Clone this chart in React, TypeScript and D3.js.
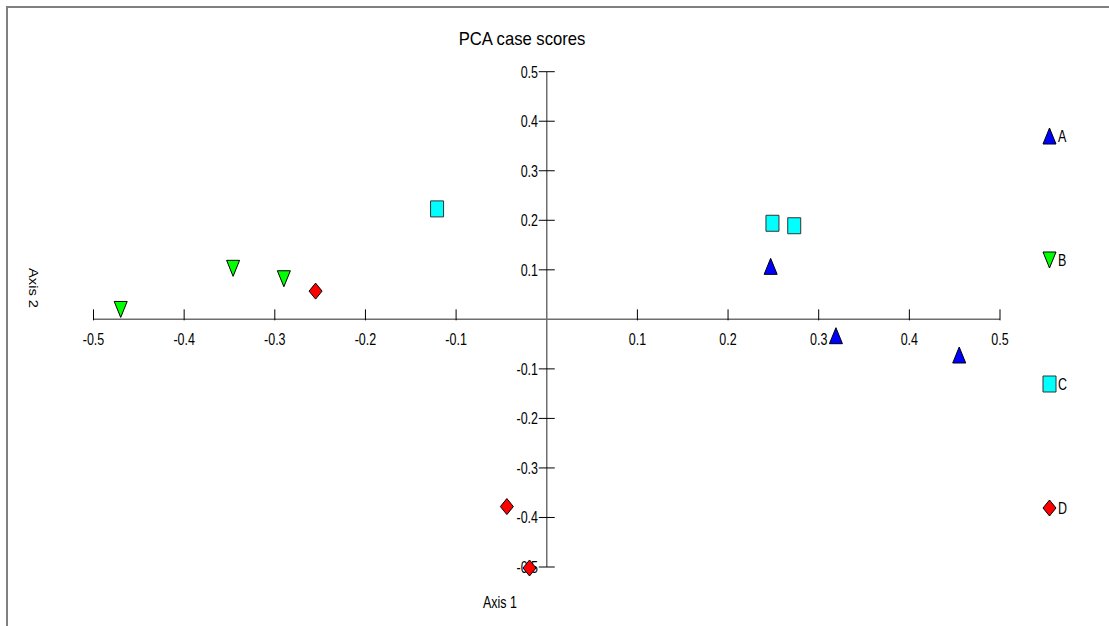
import React from "react";
import * as d3 from "d3";

// PCA case scores per group (Axis 1, Axis 2)
const groups = ["A", "B", "C", "D"];
const groupColors = ["#0000ff", "#00ff00", "#00ffff", "#ff0000"];
const groupShapes = ["triangleUp", "triangleDown", "square", "diamond"];

const scoresA: [number, number][] = [
  [0.247, 0.107],
  [0.319, -0.033],
  [0.455, -0.072],
];
const scoresB: [number, number][] = [
  [-0.47, 0.02],
  [-0.346, 0.103],
  [-0.29, 0.082],
];
const scoresC: [number, number][] = [
  [-0.121, 0.223],
  [0.249, 0.194],
  [0.273, 0.189],
];
const scoresD: [number, number][] = [
  [-0.255, 0.057],
  [-0.044, -0.378],
  [-0.019, -0.502],
];
const groupScores = [scoresA, scoresB, scoresC, scoresD];

const xTicks = [-0.5, -0.4, -0.3, -0.2, -0.1, 0.1, 0.2, 0.3, 0.4, 0.5];
const yTicks = [0.5, 0.4, 0.3, 0.2, 0.1, -0.1, -0.2, -0.3, -0.4, -0.5];

const W = 1109;
const H = 626;
const FONT = "'Liberation Sans', Arial, sans-serif";
const STRETCH = 1.32;

const x = d3.scaleLinear().domain([-0.5, 0.5]).range([93.5, 1000]);
const y = d3.scaleLinear().domain([-0.5, 0.5]).range([567, 71.7]);

const MW = 13; // marker width
const MH = 16; // marker height

function markerPath(shape: string, cx: number, cy: number): string {
  const hw = MW / 2;
  const hh = MH / 2;
  const p = d3.path();
  if (shape === "triangleUp") {
    p.moveTo(cx, cy - hh);
    p.lineTo(cx + hw, cy + hh);
    p.lineTo(cx - hw, cy + hh);
  } else if (shape === "triangleDown") {
    p.moveTo(cx - hw, cy - hh);
    p.lineTo(cx + hw, cy - hh);
    p.lineTo(cx, cy + hh);
  } else if (shape === "square") {
    p.rect(cx - hw, cy - hh, MW, MH);
  } else {
    p.moveTo(cx, cy - hh);
    p.lineTo(cx + hw, cy);
    p.lineTo(cx, cy + hh);
    p.lineTo(cx - hw, cy);
  }
  p.closePath();
  return p.toString();
}

function Label(props: {
  x: number;
  y: number;
  text: string;
  anchor?: "start" | "middle" | "end";
  size?: number;
  sx?: number;
  sy?: number;
  rotate?: number;
}) {
  const { text, anchor = "start", size = 12, sx = 1, sy = STRETCH, rotate = 0 } = props;
  return (
    <text
      transform={`translate(${props.x},${props.y}) rotate(${rotate}) scale(${sx},${sy})`}
      textAnchor={anchor}
      fontFamily={FONT}
      fontSize={size}
      fill="#000"
    >
      {text}
    </text>
  );
}

// one decimal, plain hyphen for negatives
const fmt = (v: number) => d3.format(".1f")(v).replace("\u2212", "-");

export default function App() {
  const x0 = x(0);
  const y0 = y(0);
  const legendX = 1049.5;
  const legendY = d3.scalePoint<string>().domain(groups).range([136, 508]);

  return (
    <svg
      width={W}
      height={H}
      style={{ position: "absolute", left: 0, top: 0, display: "block", background: "#fff" }}
    >
      {/* frame */}
      <line x1={6} y1={7} x2={W} y2={7} stroke="#808080" strokeWidth={2} />
      <line x1={7} y1={6} x2={7} y2={H} stroke="#808080" strokeWidth={2} />

      <Label x={522} y={45} text="PCA case scores" anchor="middle" size={17} sy={1.12} sx={0.98} />

      {/* axes through the origin */}
      <line x1={x(-0.5)} y1={y0} x2={x(0.5)} y2={y0} stroke="#6e6e6e" strokeWidth={1.5} />
      <line x1={x0} y1={y(0.5)} x2={x0} y2={y(-0.5)} stroke="#6e6e6e" strokeWidth={1.5} />

      {xTicks.map((t) => (
        <g key={`xt${t}`}>
          <line x1={x(t)} y1={y0 - 10} x2={x(t)} y2={y0 + 1} stroke="#000" strokeWidth={1} />
          <Label x={x(t)} y={345} text={fmt(t)} anchor="middle" size={12.5} />
        </g>
      ))}
      {yTicks.map((t) => (
        <g key={`yt${t}`}>
          <line x1={x0 - 8} y1={y(t)} x2={x0 + 8} y2={y(t)} stroke="#000" strokeWidth={1} />
          <Label x={538} y={y(t) + 5.9} text={fmt(t)} anchor="end" size={12.5} />
        </g>
      ))}

      <Label x={500} y={608} text="Axis 1" anchor="middle" size={12.5} />
      <Label x={29} y={288} text="Axis 2" anchor="middle" rotate={90} sx={1.22} sy={1} />

      {/* case scores */}
      {groupScores.map((pts, gi) =>
        pts.map((d, i) => (
          <path
            key={`p${gi}-${i}`}
            d={markerPath(groupShapes[gi], x(d[0]), y(d[1]))}
            fill={groupColors[gi]}
            stroke={groupShapes[gi] === "square" ? "#333" : "#000"}
            strokeWidth={1}
          />
        ))
      )}

      {/* legend */}
      {groups.map((g, gi) => (
        <g key={`lg${g}`}>
          <path
            d={markerPath(groupShapes[gi], legendX, legendY(g) as number)}
            fill={groupColors[gi]}
            stroke={groupShapes[gi] === "square" ? "#333" : "#000"}
            strokeWidth={1}
          />
          <Label x={1058} y={(legendY(g) as number) + 5.9} text={g} size={12.5} />
        </g>
      ))}
    </svg>
  );
}
